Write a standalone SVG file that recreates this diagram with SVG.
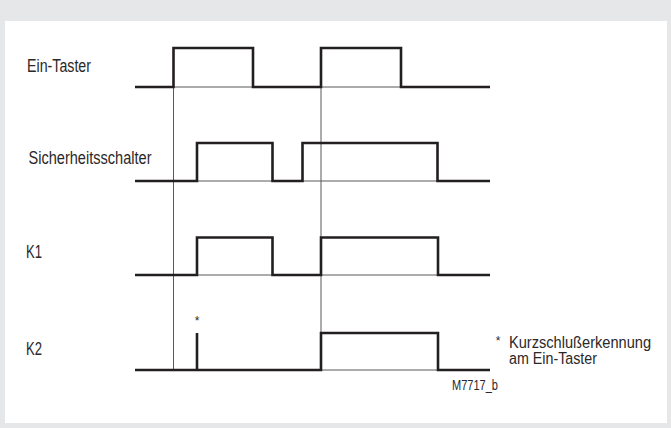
<svg xmlns="http://www.w3.org/2000/svg" width="671" height="428" viewBox="0 0 671 428">
<style>
.lbl{font-family:"Liberation Sans",Arial,sans-serif;font-size:17.5px;fill:#2b2829}
.note{font-family:"Liberation Sans",Arial,sans-serif;font-size:16px;fill:#2b2829}
.small{font-family:"Liberation Sans",Arial,sans-serif;font-size:15px;fill:#2b2829}
.ast{font-family:"Liberation Sans",Arial,sans-serif;font-size:12px;fill:#2b2829}
.sig{fill:none;stroke:#231f20;stroke-width:2.6;stroke-linejoin:miter;stroke-linecap:butt}
.thin{fill:none;stroke:#58595b;stroke-width:1}
</style>
<rect x="0" y="0" width="671" height="428" fill="#e6e7e8"/>
<rect x="5" y="21" width="662" height="402" fill="#ffffff"/>
<g id="connectors">
<path class="thin" d="M173.5,87 V370 M321,87 V370"/>
<path class="thin" d="M135,87 H490 M135,181 H490 M135,275 H490 M135,370 H490"/>
</g>
<g id="ein-taster">
<text class="lbl" x="27" y="71.5" textLength="64" lengthAdjust="spacingAndGlyphs">Ein-Taster</text>
<path class="sig" d="M135,87 H173.5 V48 H253 V87 H321 V48 H401 V87 H490"/>
</g>
<g id="sicherheitsschalter">
<text class="lbl" x="28.5" y="163.5" textLength="123" lengthAdjust="spacingAndGlyphs">Sicherheitsschalter</text>
<path class="sig" d="M135,181 H197 V143 H272.5 V181 H302.5 V143 H437.5 V181 H490"/>
</g>
<g id="k1">
<text class="lbl" x="26" y="258" textLength="16" lengthAdjust="spacingAndGlyphs">K1</text>
<path class="sig" d="M135,275 H197 V237.5 H272.5 V275 H321 V237.5 H438 V275 H490"/>
</g>
<g id="k2">
<text class="lbl" x="26" y="355" textLength="16" lengthAdjust="spacingAndGlyphs">K2</text>
<path class="sig" d="M135,370 H321 V333 H438 V370 H490 M197,370 V333"/>
<text class="ast" x="197" y="325" text-anchor="middle">*</text>
</g>
<g id="footnote">
<text class="ast" x="498" y="345" text-anchor="middle">*</text>
<text class="note" x="509" y="348" textLength="142" lengthAdjust="spacingAndGlyphs">Kurzschlußerkennung</text>
<text class="note" x="509" y="364" textLength="88" lengthAdjust="spacingAndGlyphs">am Ein-Taster</text>
</g>
<g id="figure-id">
<text class="small" x="452" y="390" textLength="46" lengthAdjust="spacingAndGlyphs">M7717_b</text>
</g>
</svg>
